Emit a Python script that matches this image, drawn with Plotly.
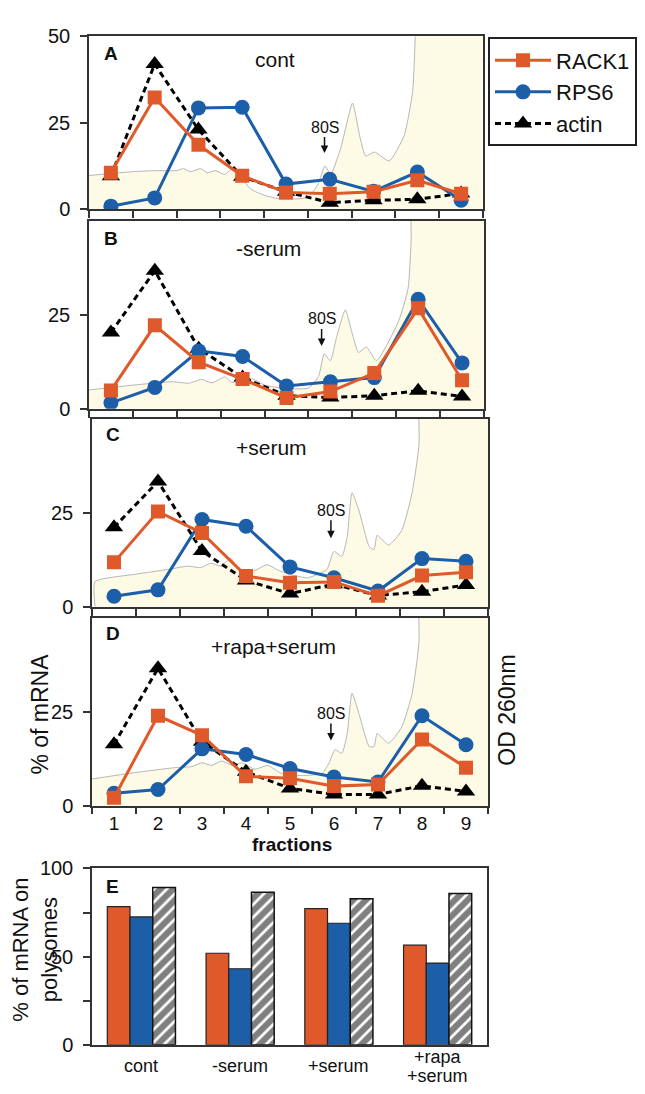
import plotly.graph_objects as go

# ---------------- data ----------------
fractions = [1, 2, 3, 4, 5, 6, 7, 8, 9]
conditions = ["cont", "-serum", "+serum", "+rapa+serum"]
panel_letters = ["A", "B", "C", "D"]

rack1_cont = [10.5, 32.3, 18.6, 9.6, 4.8, 4.4, 5.0, 8.3, 4.4]
rps6_cont = [0.8, 3.2, 29.3, 29.5, 7.2, 8.6, 5.1, 10.7, 2.5]
actin_cont = [9.5, 42.0, 23.0, 9.3, 5.0, 1.8, 2.5, 2.8, 4.5]

rack1_minus = [4.9, 22.2, 12.4, 7.9, 2.9, 4.6, 9.5, 26.7, 7.6]
rps6_minus = [1.6, 5.7, 15.4, 13.9, 6.1, 7.2, 8.3, 29.1, 12.2]
actin_minus = [20.3, 36.7, 16.0, 8.3, 3.5, 3.0, 3.5, 4.8, 3.3]

rack1_plus = [11.8, 25.3, 19.6, 8.2, 6.4, 6.6, 2.9, 8.3, 9.2]
rps6_plus = [2.8, 4.5, 23.2, 21.4, 10.6, 7.7, 4.2, 12.8, 12.1]
actin_plus = [21.1, 33.3, 14.8, 7.0, 3.5, 6.0, 3.0, 4.0, 5.8]

rack1_rapa = [2.1, 23.9, 18.7, 7.8, 7.3, 5.2, 5.6, 17.6, 10.1]
rps6_rapa = [3.3, 4.3, 15.1, 13.6, 9.9, 7.6, 6.3, 23.9, 16.2]
actin_rapa = [16.3, 36.5, 17.0, 9.0, 4.6, 3.0, 3.0, 5.3, 3.8]

# OD 260nm absorbance traces (arbitrary units)
od_x_cont = [0.5, 1.5, 2.0, 2.5, 2.66, 2.82, 3.05, 3.2, 3.38, 3.6, 3.8, 3.95, 4.2, 4.5, 4.9, 5.5,
             5.73, 5.89, 6.02, 6.25, 6.52, 6.68, 6.82, 7.02, 7.36, 7.7, 7.89, 7.95, 8.0, 9.5]
od_y_cont = [9.7, 10.8, 11.1, 11.1, 11.7, 10.8, 11.7, 10.5, 11.1, 10.0, 12.0, 9.5, 5.7, 4.0, 2.8, 3.4,
             7.1, 12.5, 10.0, 17.6, 30.7, 21.3, 15.3, 16.5, 13.9, 21.3, 33.8, 49.4, 100, 100]

od_x_minus = [0.5, 1.5, 2.4, 2.77, 3.07, 3.3, 3.6, 3.75, 4.2, 4.5, 4.9, 5.5, 5.73, 5.86, 6.0, 6.14,
              6.34, 6.52, 6.64, 6.82, 7.05, 7.55, 7.77, 7.84, 7.9, 9.5]
od_y_minus = [5.0, 6.3, 7.2, 6.8, 7.8, 6.9, 8.5, 7.0, 8.1, 6.3, 5.5, 5.5, 8.6, 14.6, 12.8, 19.0,
              26.3, 19.0, 15.0, 16.4, 12.8, 23.2, 32.0, 45.0, 100, 100]

od_x_plus = [0.57, 0.57, 1.46, 2.22, 2.68, 2.97, 3.2, 3.43, 3.65, 3.8, 4.03, 4.25, 4.48, 4.7, 5.0, 5.4,
             5.7, 5.84, 6.0, 6.18, 6.3, 6.41, 6.57, 6.8, 6.91, 6.98, 7.24, 7.54, 7.77, 7.93, 8.0, 9.5]
od_y_plus = [0, 6.7, 8.6, 9.9, 10.8, 10.4, 11.6, 10.8, 12.9, 10.4, 9.0, 9.9, 11.2, 9.9, 8.6, 7.7,
             9.0, 9.9, 14.7, 13.4, 18.6, 30.3, 25.5, 16.0, 15.2, 19.0, 16.4, 20.3, 30.0, 43.0, 100, 100]

od_x_rapa = [0.5, 1.48, 2.38, 2.77, 3.0, 3.22, 3.45, 3.68, 3.9, 4.2, 4.5, 4.8, 5.27, 5.73, 5.89, 6.02,
             6.18, 6.3, 6.41, 6.57, 6.8, 6.91, 6.98, 7.24, 7.54, 7.77, 7.93, 8.0, 9.5]
od_y_rapa = [7.1, 8.8, 10.1, 10.4, 11.4, 10.7, 11.9, 10.7, 11.4, 9.7, 10.7, 8.6, 8.0, 8.6, 11.4, 14.9,
             13.9, 19.2, 29.9, 24.3, 15.7, 15.7, 19.2, 16.6, 20.9, 29.5, 43.3, 100, 100]

# panel E: % of mRNA on polysomes
categories_e = ["cont", "-serum", "+serum", "+rapa<br>+serum"]
rack1_poly = [78.3, 51.9, 77.2, 56.5]
rps6_poly = [72.5, 43.1, 68.9, 46.3]
actin_poly = [89.2, 86.5, 82.8, 85.7]

# ---------------- styling ----------------
W, H = 645, 1094
ORANGE = "#E0592A"
BLUE = "#1C5EA8"
CREAM = "#FDFBE6"
FRAME = "#333333"
FONT = "Liberation Sans, Arial, Helvetica, sans-serif"

panels = [
    (rack1_cont, rps6_cont, actin_cont, od_x_cont, od_y_cont, (89, 483), (26, 202)),
    (rack1_minus, rps6_minus, actin_minus, od_x_minus, od_y_minus, (89, 484), (214, 406)),
    (rack1_plus, rps6_plus, actin_plus, od_x_plus, od_y_plus, (92, 488), (416, 608)),
    (rack1_rapa, rps6_rapa, actin_rapa, od_x_rapa, od_y_rapa, (92, 488), (619, 811)),
]


def xd(a, b):
    return [a / W, b / W]


def yd(top, bottom):
    return [1 - bottom / H, 1 - top / H]


fig = go.Figure()
layout = {}
half_ticks = [f - 0.5 for f in fractions] + [fractions[-1] + 0.5]

for i, (r, p, a, odx, ody, xr, yr) in enumerate(panels):
    n = "" if i == 0 else str(i + 1)
    xa, ya = "x" + n, "y" + n
    first = i == 0
    fig.add_trace(go.Scatter(x=odx, y=ody, xaxis=xa, yaxis=ya, mode="lines",
                             fill="tozeroy", fillcolor=CREAM,
                             line=dict(color="#B5B5B5", width=1, shape="spline", smoothing=0.5),
                             showlegend=False, hoverinfo="skip"))
    fig.add_trace(go.Scatter(x=fractions, y=a, xaxis=xa, yaxis=ya, mode="lines+markers",
                             name="actin", legendgroup="actin", showlegend=first, legendrank=3,
                             line=dict(color="black", width=3, dash="6px,4px"),
                             marker=dict(symbol="triangle-up", size=16, color="black")))
    fig.add_trace(go.Scatter(x=fractions, y=p, xaxis=xa, yaxis=ya, mode="lines+markers",
                             name="RPS6", legendgroup="RPS6", showlegend=first, legendrank=2,
                             line=dict(color=BLUE, width=3),
                             marker=dict(symbol="circle", size=15, color=BLUE)))
    fig.add_trace(go.Scatter(x=fractions, y=r, xaxis=xa, yaxis=ya, mode="lines+markers",
                             name="RACK1", legendgroup="RACK1", showlegend=first, legendrank=1,
                             line=dict(color=ORANGE, width=3),
                             marker=dict(symbol="square", size=14, color=ORANGE)))

    layout["xaxis" + n] = dict(
        domain=xd(*xr), range=[0.5, 9.5], anchor=ya,
        tickmode="array", tickvals=fractions, ticktext=[str(f) for f in fractions],
        showticklabels=(i == 3), ticks="",
        minor=dict(tickmode="array", tickvals=half_ticks, ticks="outside",
                   ticklen=7, tickwidth=1.5, tickcolor=FRAME),
        showline=True, mirror=True, linecolor=FRAME, linewidth=1.5,
        showgrid=False, zeroline=False,
        tickfont=dict(size=19, color="#111", family=FONT),
    )
    layout["yaxis" + n] = dict(
        domain=yd(*yr), range=[0, 50], anchor=xa,
        tickmode="array", tickvals=[0, 25, 50] if first else [0, 25],
        ticks="outside", ticklen=7, tickwidth=1.5, tickcolor=FRAME,
        ticklabelstandoff=6,
        showline=True, mirror=True, linecolor=FRAME, linewidth=1.5,
        showgrid=False, zeroline=False,
        tickfont=dict(size=20, color="#111", family=FONT),
    )

# panel E bars
fig.add_trace(go.Bar(x=categories_e, y=rack1_poly, xaxis="x5", yaxis="y5", showlegend=False,
                     marker=dict(color=ORANGE, line=dict(color="#222", width=1.2))))
fig.add_trace(go.Bar(x=categories_e, y=rps6_poly, xaxis="x5", yaxis="y5", showlegend=False,
                     marker=dict(color=BLUE, line=dict(color="#222", width=1.2))))
fig.add_trace(go.Bar(x=categories_e, y=actin_poly, xaxis="x5", yaxis="y5", showlegend=False,
                     marker=dict(color="white", line=dict(color="#111", width=1.5),
                                 pattern=dict(shape="/", fgcolor="black", bgcolor="white",
                                              size=9, solidity=0.7))))

layout["xaxis5"] = dict(domain=xd(92, 487), anchor="y5", type="category",
                        showline=True, mirror=True, linecolor=FRAME, linewidth=1.5,
                        ticks="", showgrid=False, showticklabels=False)
layout["yaxis5"] = dict(domain=yd(875, 1055), anchor="x5", range=[0, 100],
                        tickmode="array", tickvals=[0, 50, 100],
                        ticks="outside", ticklen=7, tickwidth=1.5, tickcolor=FRAME,
                        ticklabelstandoff=6,
                        minor=dict(tickmode="array", tickvals=[25, 75], ticks="outside",
                                   ticklen=7, tickwidth=1.5, tickcolor=FRAME),
                        showline=True, mirror=True, linecolor=FRAME, linewidth=1.5,
                        showgrid=False, zeroline=False,
                        tickfont=dict(size=20, color="#111", family=FONT))

# ---------------- annotations ----------------
ann = []


def paper_text(text, x, y, size, bold=False, angle=0):
    ann.append(dict(text=f"<b>{text}</b>" if bold else text, x=x / W, y=1 - y / H,
                    xref="paper", yref="paper", showarrow=False, textangle=angle,
                    xanchor="center", yanchor="middle",
                    font=dict(size=size, color="#111", family=FONT)))


letter_pos = [(111, 43), (111, 232), (113, 432), (113, 635)]
cond_pos = [(275, 49), (268, 242), (271, 445), (273, 649)]
for k in range(4):
    paper_text(panel_letters[k], *letter_pos[k], 19, bold=True)
    paper_text(conditions[k], *cond_pos[k], 21)
paper_text("E", 112, 893, 19, bold=True)

# category labels of panel E (tight line spacing as in the original)
for cat in categories_e:
    lines = cat.split("<br>")
    for j, line in enumerate(lines):
        yc = 1077 + (j - (len(lines) - 1) / 2) * 19
        ann.append(dict(text=line, x=cat, y=1 - yc / H, xref="x5", yref="paper",
                        showarrow=False, xanchor="center", yanchor="middle",
                        font=dict(size=18, color="#111", family=FONT)))

# 80S arrows (annotation anchored to data coordinates)
s80 = [(5.88, 16.2, -26), (5.8, 16.7, -27), (5.93, 18.2, -28), (5.93, 17.3, -27)]
for k, (fx, fy, ay) in enumerate(s80):
    n = "" if k == 0 else str(k + 1)
    ann.append(dict(text="80S", x=fx, y=fy, xref="x" + n, yref="y" + n,
                    showarrow=True, ax=0, ay=ay, arrowhead=2, arrowsize=1, arrowwidth=1.5,
                    arrowcolor="#111", standoff=0,
                    font=dict(size=16, color="#111", family=FONT)))

paper_text("% of mRNA", 40, 718, 23, angle=-90)
paper_text("OD 260nm", 507, 714, 23, angle=-90)
paper_text("fractions", 292, 851, 19, bold=True)
paper_text("% of mRNA on<br>polysomes", 35, 958, 22, angle=-90)

fig.update_layout(
    width=W, height=H,
    margin=dict(l=0, r=0, t=0, b=0),
    paper_bgcolor="white", plot_bgcolor="white",
    font=dict(family=FONT, color="#111"),
    barmode="group", bargap=0.31, bargroupgap=0.0,
    legend=dict(x=488 / W, y=1 - 27 / H, xanchor="left", yanchor="top",
                bordercolor="#222", borderwidth=2, bgcolor="white",
                font=dict(size=22, color="#111", family=FONT),
                itemwidth=56, tracegroupgap=0, traceorder="normal"),
    annotations=ann,
    **layout,
)

fig.write_html("out.html", config={"displayModeBar": False},
               post_script="document.body.style.margin='0';")
